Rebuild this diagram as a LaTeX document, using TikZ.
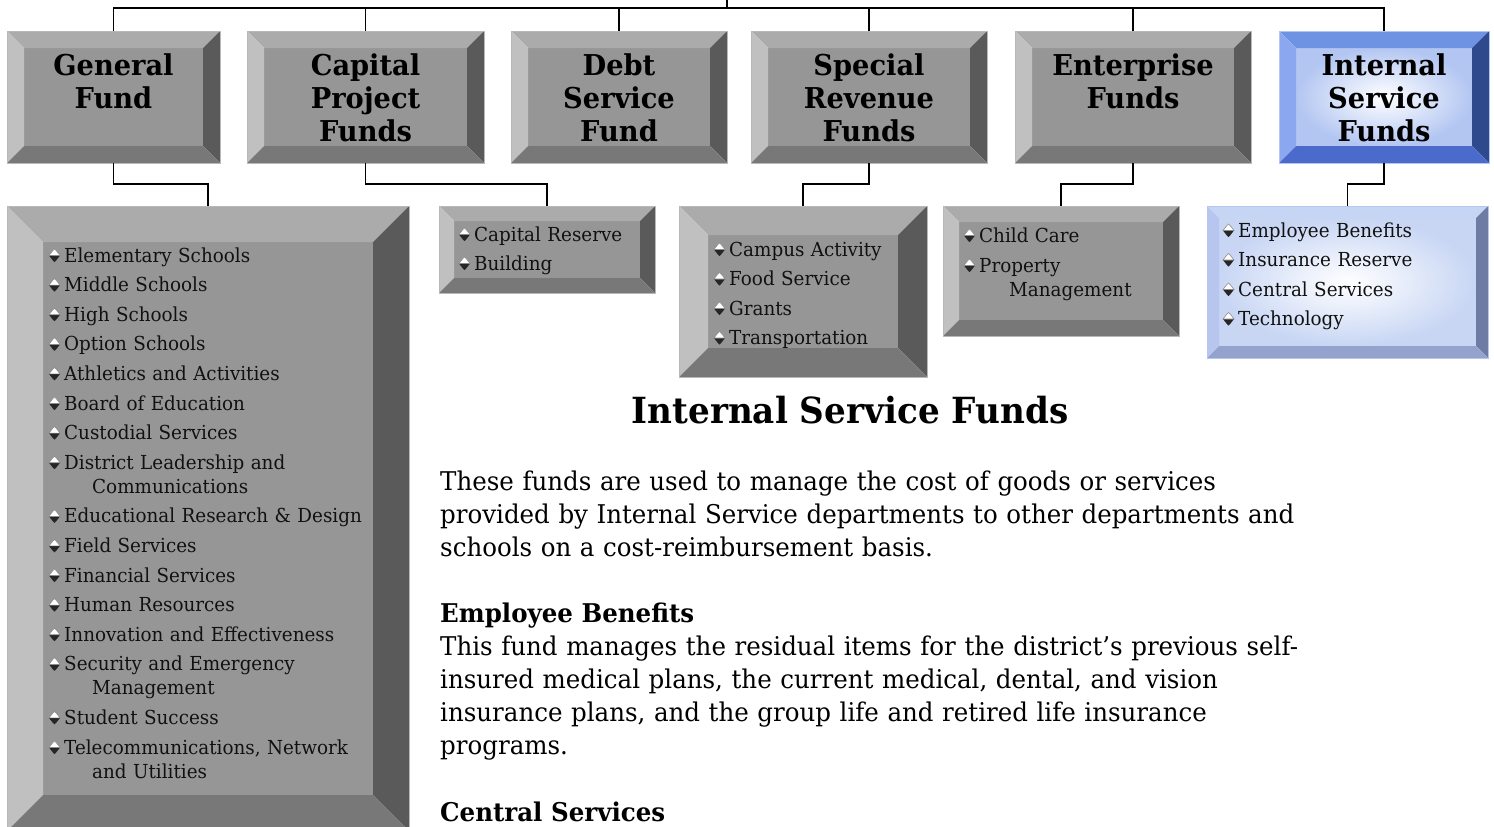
\documentclass[tikz,border=0pt]{standalone}
\usepackage{fontspec}
\setmainfont{DejaVu Serif}[FakeStretch=0.95]
\usetikzlibrary{calc}
\definecolor{gface}{HTML}{969696}
\definecolor{gtop}{HTML}{ABABAB}
\definecolor{gleft}{HTML}{C0C0C0}
\definecolor{gright}{HTML}{5A5A5A}
\definecolor{gbot}{HTML}{787878}
\definecolor{gline}{HTML}{B8B8B8}
\definecolor{btop}{HTML}{6F93E3}
\definecolor{bleft}{HTML}{8BA7EF}
\definecolor{bright}{HTML}{2F4A8C}
\definecolor{bbot}{HTML}{4A6BCB}
\definecolor{bedge}{HTML}{B3C6F2}
\definecolor{ctop}{HTML}{C6D5F4}
\definecolor{cleft}{HTML}{B6C6EE}
\definecolor{cright}{HTML}{6E7CA3}
\definecolor{cbot}{HTML}{93A3CD}
\definecolor{cedge}{HTML}{C8D6F4}
\definecolor{itemtext}{HTML}{111111}
\tikzset{
  gF/.style={fill=gface}, gT/.style={fill=gtop}, gL/.style={fill=gleft},
  gR/.style={fill=gright}, gB/.style={fill=gbot}, gO/.style={draw=gline,line width=0.8pt},
  bF/.style={inner color=white,outer color=bedge}, bT/.style={fill=btop}, bL/.style={fill=bleft},
  bR/.style={fill=bright}, bB/.style={fill=bbot}, bO/.style={draw=bedge,line width=0.8pt},
  cF/.style={inner color=white,outer color=cedge}, cT/.style={fill=ctop}, cL/.style={fill=cleft},
  cR/.style={fill=cright}, cB/.style={fill=cbot}, cO/.style={draw=cleft,line width=0.8pt},
  toplab/.style={anchor=base,inner sep=0pt,text width=230pt,align=center,
    font=\fontsize{28.7}{33}\selectfont\bfseries},
  itemtxt/.style={anchor=base west,inner sep=0pt,text width=400pt,align=left,text=itemtext,
    font=\fontsize{19.3}{24}\selectfont},
  conn/.style={draw=black,line width=1.8pt},
}
\newcommand\bevbox[7]{%
  \node[inner sep=0pt,outer sep=0pt,minimum width={#4-#2},minimum height={#5-#3}] (#1) at ({(#2+#4)/2},{(#3+#5)/2}) {};
  \path[#7F] ({#2+#6},{#3+#6}) rectangle ({#4-#6},{#5-#6});
  \fill[#7T] (#2,#3) -- (#4,#3) -- ({#4-#6},{#3+#6}) -- ({#2+#6},{#3+#6}) -- cycle;
  \fill[#7L] (#2,#3) -- ({#2+#6},{#3+#6}) -- ({#2+#6},{#5-#6}) -- (#2,#5) -- cycle;
  \fill[#7R] (#4,#3) -- (#4,#5) -- ({#4-#6},{#5-#6}) -- ({#4-#6},{#3+#6}) -- cycle;
  \fill[#7B] (#2,#5) -- (#4,#5) -- ({#4-#6},{#5-#6}) -- ({#2+#6},{#5-#6}) -- cycle;
  \draw[#7O] (#1.north west) rectangle (#1.south east);
}
\newcommand\mybul[2]{%
  \begin{scope}[shift={({#1-9.5},{#2-6.5})}]
    \fill[black!85] (-5.5,0) -- (5.5,0) -- (1.8,4.8) -- (0,6.5) -- (-1.8,4.8) -- cycle;
    \filldraw[fill=white,draw=black!45,line width=0.6pt] (-5.5,0) -- (-1.8,-4.8) -- (0,-6.5) -- (1.8,-4.8) -- (5.5,0) -- cycle;
  \end{scope}}
\newcommand\itm[3]{\mybul{#1}{#2}\node[itemtxt] at (#1,#2) {#3};}
\begin{document}
\begin{tikzpicture}[x=1pt,y=-1pt]
\useasboundingbox (0,0) rectangle (1494,827);
\clip (0,0) rectangle (1494,827);
% top boxes
\bevbox{gen}{7}{31}{220}{163}{17}{g}
\bevbox{cap}{247}{31}{484}{163}{17}{g}
\bevbox{debt}{511}{31}{727}{163}{17}{g}
\bevbox{spec}{751}{31}{987}{163}{17}{g}
\bevbox{ent}{1015}{31}{1251}{163}{17}{g}
\bevbox{isf}{1279}{31}{1489}{163}{17}{b}
\node[toplab] at (113.5,75) {General\\Fund};
\node[toplab] at (365.5,75) {Capital\\Project\\Funds};
\node[toplab] at (619,75) {Debt\\Service\\Fund};
\node[toplab] at (869,75) {Special\\Revenue\\Funds};
\node[toplab] at (1133,75) {Enterprise\\Funds};
\node[toplab] at (1384,75) {Internal\\Service\\Funds};
% list boxes
\bevbox{genl}{7}{206}{409}{831}{36}{g}
\bevbox{capl}{439}{206}{655}{293}{15}{g}
\bevbox{specl}{679}{206}{927}{377}{29}{g}
\bevbox{entl}{943}{206}{1179}{336}{16}{g}
\bevbox{isfl}{1207}{206}{1488}{358}{12}{c}
% connectors
\coordinate (root) at (727,-2);
\coordinate (bus) at (727,8);
\draw[conn] (root) -- (bus);
\foreach \b in {gen,cap,debt,spec,ent,isf}{\draw[conn] (bus) -| (\b.north);}
\draw[conn] (gen.south) -- ++(0,21) -| (genl.north);
\draw[conn] (cap.south) -- ++(0,21) -| (capl.north);
\draw[conn] (spec.south) -- ++(0,21) -| (specl.north);
\draw[conn] (ent.south) -- ++(0,21) -| (entl.north);
\draw[conn] (isf.south) -- ++(0,21) -| (isfl.north);
% general list
\itm{64}{262}{Elementary Schools}
\itm{64}{291.6}{Middle Schools}
\itm{64}{321.2}{High Schools}
\itm{64}{350.8}{Option Schools}
\itm{64}{380.4}{Athletics and Activities}
\itm{64}{410}{Board of Education}
\itm{64}{439.6}{Custodial Services}
\itm{64}{469.2}{District Leadership and\\\hspace*{28pt}Communications}
\itm{64}{522.8}{Educational Research \& Design}
\itm{64}{552.4}{Field Services}
\itm{64}{582}{Financial Services}
\itm{64}{611.6}{Human Resources}
\itm{64}{641.2}{Innovation and Effectiveness}
\itm{64}{670.8}{Security and Emergency\\\hspace*{28pt}Management}
\itm{64}{724.4}{Student Success}
\itm{64}{754}{Telecommunications, Network\\\hspace*{28pt}and Utilities}
% capital
\itm{474}{241}{Capital Reserve}
\itm{474}{270}{Building}
% special
\itm{729}{256}{Campus Activity}
\itm{729}{285.5}{Food Service}
\itm{729}{315}{Grants}
\itm{729}{344.5}{Transportation}
% enterprise
\itm{979}{242}{Child Care}
\itm{979}{272}{Property\\\hspace*{30pt}Management}
% internal
\itm{1238}{237}{Employee Benefits}
\itm{1238}{266.5}{Insurance Reserve}
\itm{1238}{296}{Central Services}
\itm{1238}{325.5}{Technology}
% right text
\node[anchor=base,inner sep=0pt,font=\fontsize{36}{40}\selectfont\bfseries] (title) at (850,423) {Internal Service Funds};
\node[anchor=base west,inner sep=0pt,text width=1000pt,align=left,font=\fontsize{25.8}{33.1}\selectfont] (desc) at (440,490)
 {These funds are used to manage the cost of goods or services\\
  provided by Internal Service departments to other departments and\\
  schools on a cost-reimbursement basis.\\[33.1pt]
  \textbf{Employee Benefits}\\
  This fund manages the residual items for the district’s previous self-\\
  insured medical plans, the current medical, dental, and vision\\
  insurance plans, and the group life and retired life insurance\\
  programs.\\[33.1pt]
  \textbf{Central Services}};
\end{tikzpicture}
\end{document}
